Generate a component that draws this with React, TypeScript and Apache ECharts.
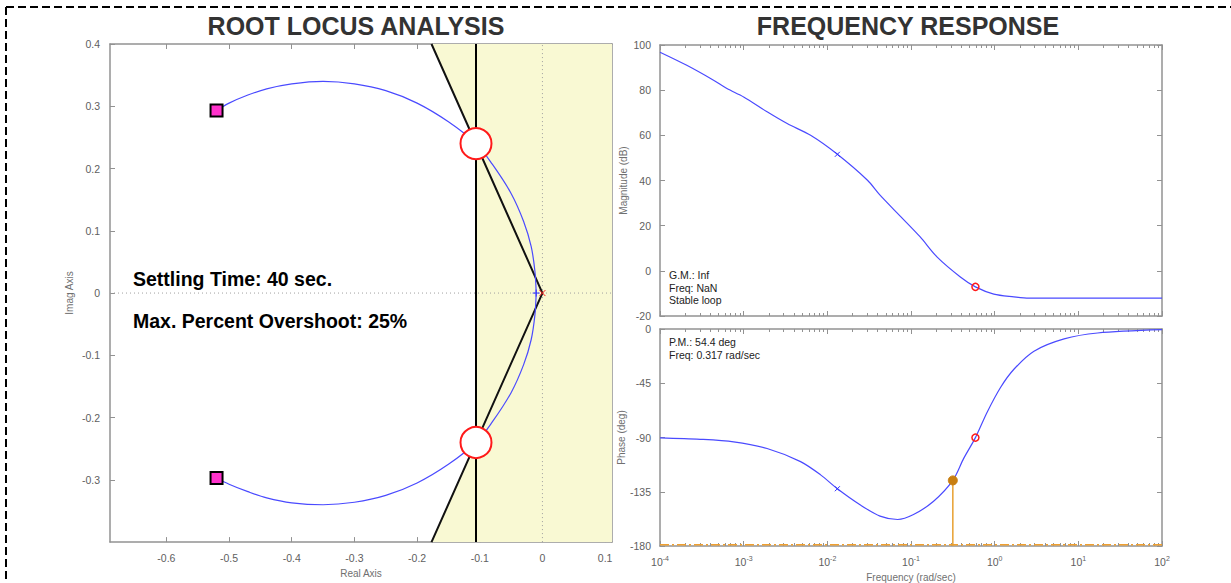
import React, { useEffect, useRef } from "react";
import * as echarts from "echarts";

// ---------- Root locus data (Real, Imag) ----------
const locusUpper: number[][] = [
  [-0.52, 0.293], [-0.5, 0.305], [-0.47, 0.318], [-0.44, 0.328], [-0.4, 0.336],
  [-0.35, 0.34], [-0.3, 0.336], [-0.25, 0.325], [-0.2, 0.305], [-0.15, 0.275],
  [-0.106, 0.24], [-0.08, 0.207], [-0.05, 0.16], [-0.03, 0.115], [-0.018, 0.075],
  [-0.012, 0.035], [-0.01, 0],
];
const locusLower: number[][] = [
  [-0.52, -0.297], [-0.5, -0.307], [-0.47, -0.319], [-0.44, -0.329], [-0.4, -0.337],
  [-0.35, -0.34], [-0.3, -0.336], [-0.25, -0.325], [-0.2, -0.305], [-0.15, -0.275],
  [-0.106, -0.24], [-0.08, -0.207], [-0.05, -0.16], [-0.03, -0.115], [-0.018, -0.075],
  [-0.012, -0.035], [-0.01, 0],
];
const openLoopPoles: number[][] = [[-0.52, 0.293], [-0.52, -0.297]];
const closedLoopPoles: number[][] = [[-0.106, 0.24], [-0.106, -0.24]];
const originPole: number[][] = [[0, 0]];
const originZero: number[][] = [[-0.01, 0]];
const settlingLine: number[][] = [[-0.106, -0.4], [-0.106, 0.4]];
const dampingLines: number[][] = [[-0.177, 0.4], [0, 0], [-0.177, -0.4]];
const shadeRegion: number[][] = [
  [-0.177, 0.4], [0.111, 0.4], [0.111, -0.4], [-0.177, -0.4], [-0.106, -0.24], [-0.106, 0.24],
];
const realAxisTicks = [-0.6, -0.5, -0.4, -0.3, -0.2, -0.1, 0, 0.1];
const imagAxisTicks = [-0.3, -0.2, -0.1, 0, 0.1, 0.2, 0.3, 0.4];

// ---------- Bode data (log10 frequency, value) ----------
const magnitudeDb: number[][] = [
  [-4, 96.8], [-3.68, 91.0], [-3.36, 84.4], [-3.2, 80.7], [-3.0, 77.0], [-2.72, 70.4],
  [-2.48, 65.2], [-2.2, 60.0], [-1.88, 51.6], [-1.52, 40.1], [-1.37, 33.5], [-1.12, 23.9],
  [-0.89, 15.0], [-0.69, 6.2], [-0.41, -2.7], [-0.23, -7.1], [-0.01, -10.3], [0.23, -11.5],
  [0.41, -12.1], [2, -12.1],
];
const phaseDeg: number[][] = [
  [-4, -90.3], [-3.52, -91.5], [-3.12, -93.6], [-2.72, -99.1], [-2.32, -110], [-2.08, -121],
  [-1.88, -132.5], [-1.6, -146.2], [-1.37, -155.2], [-1.16, -158], [-0.97, -153.9],
  [-0.73, -142.9], [-0.5, -125.6], [-0.37, -107.3], [-0.23, -90.1], [-0.09, -69],
  [0.07, -48.5], [0.23, -33.4], [0.47, -18.4], [0.83, -8.2], [1.23, -3.3], [2, -0.6],
];
const magCross: number[][] = [[-1.88, 51.6]];
const magCircle: number[][] = [[-0.23, -7.1]];
const phaseCross: number[][] = [[-1.88, -132.5]];
const phaseCircle: number[][] = [[-0.23, -90.1]];
const pmPoint: number[][] = [[-0.5, -125.6]];
const pmStem: number[][] = [[-0.5, -125.6], [-0.5, -180]];
const phaseLimit: number[][] = [[-4, -179], [2, -179]];
const decades = [-4, -3, -2, -1, 0, 1];
const minorMultipliers = [2, 3, 4, 5, 6, 7, 8, 9];

const FONT = '"Liberation Sans", Arial, sans-serif';
const FRAME = "#929292";
const LABEL = "#606060";
const CROSS = "path://M0,0L10,10M10,0L0,10";
const PLUS = "path://M5,0L5,10M0,5L10,5";

const minorTicks: number[] = [];
decades.forEach((d) => minorMultipliers.forEach((m) => minorTicks.push(d + Math.log10(m))));

export default function App() {
  const ref = useRef<HTMLDivElement>(null);

  useEffect(() => {
    if (!ref.current) return;
    const chart = echarts.init(ref.current, null, { renderer: "svg" });

    const frameLine = { show: true, onZero: false, lineStyle: { color: FRAME, width: 1.5 } };
    const noLine = { show: false, onZero: false };
    const tick = (len: number, show = true) => ({
      show, inside: true, length: len, lineStyle: { color: FRAME, width: 1 },
    });
    const labelStyle = { color: LABEL, fontSize: 10.5, fontFamily: FONT };
    const nameStyle = { color: "#707070", fontSize: 10, fontFamily: FONT };

    const bodeX = (grid: number, pos: "top" | "bottom", minor: boolean, labels: boolean, extra: any = {}) => ({
      type: "value", gridIndex: grid, position: pos, min: -4, max: 2, interval: 1,
      axisLine: minor ? noLine : frameLine,
      splitLine: { show: false },
      axisTick: minor ? { ...tick(3), customValues: minorTicks } : tick(5),
      axisLabel: labels && !minor
        ? {
            ...labelStyle, margin: 9,
            formatter: (v: number) => `{b|10}{s|${v}}`,
            rich: {
              b: { fontSize: 10.5, color: LABEL, fontFamily: FONT },
              s: { fontSize: 7, color: LABEL, fontFamily: FONT, verticalAlign: "bottom", padding: [0, 0, 7, 0] },
            },
          }
        : { show: false },
      ...extra,
    });

    const scatterBase = { emphasis: { disabled: true }, silent: true };

    const option: any = {
      animation: false,
      backgroundColor: "#ffffff",
      grid: [
        { left: 110, top: 44, width: 502, height: 507 },
        { left: 660, top: 45, width: 502, height: 271 },
        { left: 660, top: 329, width: 502, height: 220 },
      ],
      xAxis: [
        {
          type: "value", gridIndex: 0, position: "bottom", min: -0.69, max: 0.111,
          axisLine: frameLine, splitLine: { show: false },
          axisTick: { ...tick(5), customValues: realAxisTicks },
          axisLabel: { ...labelStyle, margin: 10, customValues: realAxisTicks },
          name: "Real Axis", nameLocation: "middle", nameGap: 22, nameTextStyle: nameStyle,
        },
        {
          type: "value", gridIndex: 0, position: "top", min: -0.69, max: 0.111,
          axisLine: frameLine, splitLine: { show: false },
          axisTick: { ...tick(5), customValues: realAxisTicks },
          axisLabel: { show: false },
        },
        bodeX(1, "bottom", false, false),
        bodeX(1, "bottom", true, false),
        bodeX(1, "top", false, false),
        bodeX(1, "top", true, false),
        bodeX(2, "bottom", false, true, {
          name: "Frequency (rad/sec)", nameLocation: "middle", nameGap: 26, nameTextStyle: nameStyle,
        }),
        bodeX(2, "bottom", true, false),
        bodeX(2, "top", false, false),
        bodeX(2, "top", true, false),
      ],
      yAxis: [
        {
          type: "value", gridIndex: 0, position: "left", min: -0.4, max: 0.4,
          axisLine: frameLine, splitLine: { show: false },
          axisTick: { ...tick(5), customValues: imagAxisTicks },
          axisLabel: { ...labelStyle, margin: 10, customValues: imagAxisTicks },
          name: "Imag Axis", nameLocation: "middle", nameGap: 36, nameRotate: 90, nameTextStyle: nameStyle,
        },
        {
          type: "value", gridIndex: 0, position: "right", min: -0.4, max: 0.4,
          axisLine: frameLine, splitLine: { show: false }, axisTick: { show: false }, axisLabel: { show: false },
        },
        {
          type: "value", gridIndex: 1, position: "left", min: -20, max: 100, interval: 20,
          axisLine: frameLine, splitLine: { show: false }, axisTick: tick(5),
          axisLabel: { ...labelStyle, margin: 9 },
          name: "Magnitude (dB)", nameLocation: "middle", nameGap: 32, nameRotate: 90, nameTextStyle: nameStyle,
        },
        {
          type: "value", gridIndex: 1, position: "right", min: -20, max: 100, interval: 20,
          axisLine: frameLine, splitLine: { show: false }, axisTick: tick(5), axisLabel: { show: false },
        },
        {
          type: "value", gridIndex: 2, position: "left", min: -180, max: 0, interval: 45,
          axisLine: frameLine, splitLine: { show: false }, axisTick: tick(5),
          axisLabel: { ...labelStyle, margin: 9 },
          name: "Phase (deg)", nameLocation: "middle", nameGap: 34, nameRotate: 90, nameTextStyle: nameStyle,
        },
        {
          type: "value", gridIndex: 2, position: "right", min: -180, max: 0, interval: 45,
          axisLine: frameLine, splitLine: { show: false }, axisTick: tick(5), axisLabel: { show: false },
        },
      ],
      series: [
        {
          type: "custom", xAxisIndex: 0, yAxisIndex: 0, data: [[0, 0]], silent: true, z: 1,
          renderItem: (_p: any, api: any) => ({
            type: "polygon",
            shape: { points: shadeRegion.map((pt) => api.coord(pt)) },
            style: { fill: "#f9f9d3", stroke: "none" },
          }),
        },
        {
          type: "line", xAxisIndex: 0, yAxisIndex: 0, data: [[-0.69, 0], [0.111, 0]], showSymbol: false, silent: true, z: 2,
          lineStyle: { color: "#a0a0a0", width: 1, type: [1, 3] },
        },
        {
          type: "line", xAxisIndex: 0, yAxisIndex: 0, data: [[0, -0.4], [0, 0.4]], showSymbol: false, silent: true, z: 2,
          lineStyle: { color: "#a0a0a0", width: 1, type: [1, 3] },
        },
        {
          type: "line", xAxisIndex: 0, yAxisIndex: 0, data: settlingLine, showSymbol: false, z: 3,
          lineStyle: { color: "#000", width: 2 },
        },
        {
          type: "line", xAxisIndex: 0, yAxisIndex: 0, data: dampingLines, showSymbol: false, z: 3,
          lineStyle: { color: "#111", width: 2 },
        },
        {
          type: "line", xAxisIndex: 0, yAxisIndex: 0, data: locusUpper, showSymbol: false, z: 4, smooth: 0.35,
          lineStyle: { color: "#4a4aff", width: 1.2 },
        },
        {
          type: "line", xAxisIndex: 0, yAxisIndex: 0, data: locusLower, showSymbol: false, z: 4, smooth: 0.35,
          lineStyle: { color: "#4a4aff", width: 1.2 },
        },
        {
          ...scatterBase, type: "scatter", xAxisIndex: 0, yAxisIndex: 0, data: openLoopPoles, symbol: "rect", symbolSize: 12, z: 5,
          itemStyle: { color: "#ff33cc", borderColor: "#000", borderWidth: 2, opacity: 1 },
        },
        {
          ...scatterBase, type: "scatter", xAxisIndex: 0, yAxisIndex: 0, data: closedLoopPoles, symbol: "circle", symbolSize: 31, z: 5,
          itemStyle: { color: "#ffffff", borderColor: "#ff1a1a", borderWidth: 2, opacity: 1 },
        },
        {
          ...scatterBase, type: "scatter", xAxisIndex: 0, yAxisIndex: 0, data: originZero, symbol: PLUS, symbolSize: 7, z: 6,
          itemStyle: { color: "none", borderColor: "#3030ff", borderWidth: 1, opacity: 1 },
        },
        {
          ...scatterBase, type: "scatter", xAxisIndex: 0, yAxisIndex: 0, data: originPole, symbol: CROSS, symbolSize: 6, z: 6,
          itemStyle: { color: "none", borderColor: "#ff2020", borderWidth: 1, opacity: 1 },
        },
        // Magnitude
        {
          type: "line", xAxisIndex: 2, yAxisIndex: 2, data: magnitudeDb, showSymbol: false, z: 3, smooth: 0.3,
          lineStyle: { color: "#4a4aff", width: 1.2 },
        },
        {
          ...scatterBase, type: "scatter", xAxisIndex: 2, yAxisIndex: 2, data: magCross, symbol: CROSS, symbolSize: 5, z: 4,
          itemStyle: { color: "none", borderColor: "#3030ff", borderWidth: 1, opacity: 1 },
        },
        {
          ...scatterBase, type: "scatter", xAxisIndex: 2, yAxisIndex: 2, data: magCircle, symbol: "circle", symbolSize: 7, z: 4,
          itemStyle: { color: "none", borderColor: "#ff1a1a", borderWidth: 1.5, opacity: 1 },
        },
        // Phase
        {
          type: "line", xAxisIndex: 6, yAxisIndex: 4, data: phaseLimit, showSymbol: false, z: 2,
          lineStyle: { color: "#f0a030", width: 1.5, type: [9, 3, 2, 3] },
        },
        {
          type: "line", xAxisIndex: 6, yAxisIndex: 4, data: pmStem, showSymbol: false, z: 2,
          lineStyle: { color: "#e8a030", width: 1.5 },
        },
        {
          type: "line", xAxisIndex: 6, yAxisIndex: 4, data: phaseDeg, showSymbol: false, z: 3, smooth: 0.3,
          lineStyle: { color: "#4a4aff", width: 1.2 },
        },
        {
          ...scatterBase, type: "scatter", xAxisIndex: 6, yAxisIndex: 4, data: phaseCross, symbol: CROSS, symbolSize: 5, z: 4,
          itemStyle: { color: "none", borderColor: "#3030ff", borderWidth: 1, opacity: 1 },
        },
        {
          ...scatterBase, type: "scatter", xAxisIndex: 6, yAxisIndex: 4, data: phaseCircle, symbol: "circle", symbolSize: 7, z: 4,
          itemStyle: { color: "none", borderColor: "#ff1a1a", borderWidth: 1.5, opacity: 1 },
        },
        {
          ...scatterBase, type: "scatter", xAxisIndex: 6, yAxisIndex: 4, data: pmPoint, symbol: "circle", symbolSize: 9, z: 4,
          itemStyle: { color: "#c87e10", borderColor: "#c87e10", borderWidth: 1, opacity: 1 },
        },
      ],
      graphic: [
        { type: "line", shape: { x1: 6, y1: 7, x2: 1231, y2: 7 }, style: { stroke: "#000", lineWidth: 2, lineDash: [8, 4] }, silent: true },
        { type: "line", shape: { x1: 6, y1: 7, x2: 6, y2: 583 }, style: { stroke: "#000", lineWidth: 2, lineDash: [8, 4] }, silent: true },
        {
          type: "text", x: 356, y: 26,
          style: { text: "ROOT LOCUS ANALYSIS", font: `bold 25px ${FONT}`, fill: "#333333", align: "center", verticalAlign: "middle" },
        },
        {
          type: "text", x: 908, y: 26,
          style: { text: "FREQUENCY RESPONSE", font: `bold 25px ${FONT}`, fill: "#333333", align: "center", verticalAlign: "middle" },
        },
        {
          type: "text", x: 133, y: 279, z: 100,
          style: { text: "Settling Time: 40 sec.", font: `bold 19.5px ${FONT}`, fill: "#000", verticalAlign: "middle" },
        },
        {
          type: "text", x: 133, y: 321, z: 100,
          style: { text: "Max. Percent Overshoot: 25%", font: `bold 19.5px ${FONT}`, fill: "#000", verticalAlign: "middle" },
        },
        { type: "text", x: 669, y: 275, z: 100, style: { text: "G.M.: Inf", font: `10.5px ${FONT}`, fill: "#222", verticalAlign: "middle" } },
        { type: "text", x: 669, y: 287.5, z: 100, style: { text: "Freq: NaN", font: `10.5px ${FONT}`, fill: "#222", verticalAlign: "middle" } },
        { type: "text", x: 669, y: 300, z: 100, style: { text: "Stable loop", font: `10.5px ${FONT}`, fill: "#222", verticalAlign: "middle" } },
        { type: "text", x: 669, y: 342, z: 100, style: { text: "P.M.: 54.4 deg", font: `10.5px ${FONT}`, fill: "#222", verticalAlign: "middle" } },
        { type: "text", x: 669, y: 354.5, z: 100, style: { text: "Freq: 0.317 rad/sec", font: `10.5px ${FONT}`, fill: "#222", verticalAlign: "middle" } },
      ],
    };

    chart.setOption(option);
    return () => chart.dispose();
  }, []);

  return (
    <div
      ref={ref}
      style={{ position: "fixed", left: 0, top: 0, width: 1231, height: 583, background: "#fff" }}
    />
  );
}
